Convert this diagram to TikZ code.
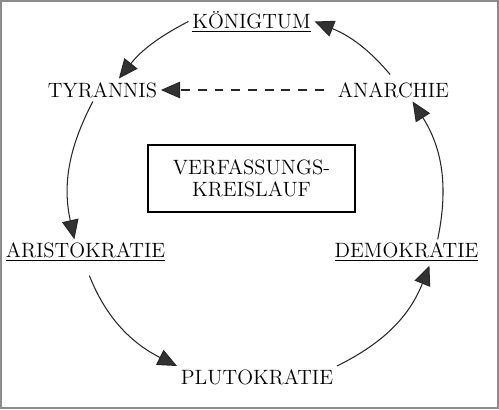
\documentclass[tikz,border=0pt]{standalone}
\usepackage{fontspec}
\usepackage{tikz}
\usetikzlibrary{arrows.meta, positioning}
\definecolor{framegray}{RGB}{140, 140, 140}
\definecolor{headgray}{RGB}{50, 50, 50}

\begin{document}
\begin{tikzpicture}[
  x=0.02cm, y=0.02cm,
  stage/.style={inner sep=2pt, font=\fontsize{11.8}{12.5}\selectfont},
  title/.style={draw, line width=0.6pt, minimum width=4.14cm, minimum height=1.34cm,
                align=center, font=\fontsize{11.8}{12.5}\selectfont},
  arr/.style={-{Triangle[length=11pt, width=9.5pt, fill=headgray]}, line width=0.6pt, black!85},
  back/.style={arr, dash pattern=on 5pt off 4.5pt}
]
  \useasboundingbox (0,0) rectangle (499,409);
  \draw[framegray, line width=1.2pt] (1,1) rectangle (498,408);

  \node[stage] (koenig) at (251.5,387.5) {\underline{KÖNIGTUM}};
  \node[stage] (tyr) at (102.5,319) {TYRANNIS};
  \node[stage] (anar) at (393.5,319) {ANARCHIE};
  \node[title] (kreis) at (251.5,230.5) {VERFASSUNGS-\\KREISLAUF};
  \node[stage] (aris) at (85.5,156.5) {\underline{ARISTOKRATIE}};
  \node[stage] (demo) at (406.5,156.5) {\underline{DEMOKRATIE}};
  \node[stage] (pluto) at (257,31.5) {PLUTOKRATIE};

  \draw[arr] (koenig.west) to[bend right=12] (tyr.35);
  \draw[arr] (tyr.230) to[bend right=20] (aris.130);
  \draw[arr, shorten <=6pt] (aris.south) to[bend right=21] (pluto.north west);
  \draw[arr] (pluto.north east) to[bend right=21] (demo.-30);
  \draw[arr] (demo.23) to[bend right=22] (anar.-31);
  \draw[arr, shorten <=3pt] (anar.north) to[bend right=14] (koenig.east);
  \draw[back, shorten <=6pt] (anar.west) -- (tyr.east);
\end{tikzpicture}
\end{document}
